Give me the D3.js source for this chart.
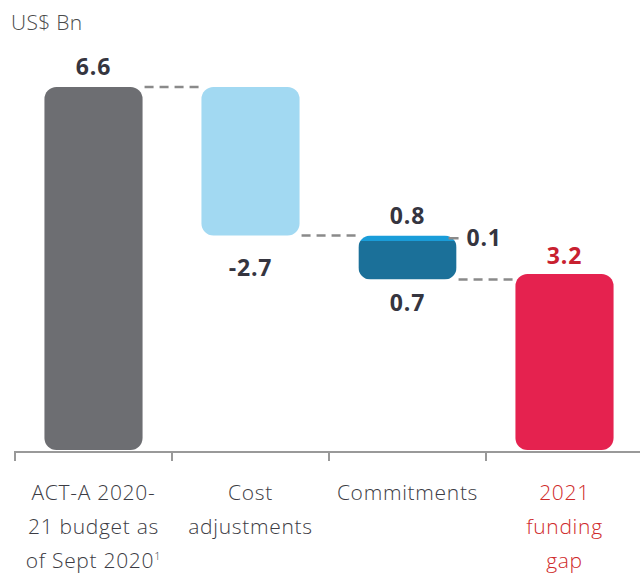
<!DOCTYPE html>
<html><head><meta charset="utf-8">
<script src="https://cdn.jsdelivr.net/npm/d3@7"></script>
<style>body{margin:0;background:#fff;}svg{display:block;font-family:"Open Sans",Lato,sans-serif;}</style>
</head><body>
<svg id="c" width="640" height="574"></svg>
<script>
const categories = ["budget", "cost", "commit", "gap"];
const tickLabels = [["ACT-A 2020-", "21 budget as", "of Sept 2020"], ["Cost", "adjustments"], ["Commitments"], ["2021", "funding", "gap"]];
const startValue = 6.6;
const costChange = -2.7;
const commitParts = [0.1, 0.7];
const gapValue = 3.2;
const unitLabel = "US$ Bn";

const svg = d3.select("#c");
const x = d3.scaleBand().domain(categories).range([15, 643]).paddingInner(0.375).paddingOuter(0.1875);
const xt = d3.scaleBand().domain(categories).range([15, 643]).padding(0);
const y = d3.scaleLinear().domain([0, 6.6]).range([450, 87]);
const bw = x.bandwidth();

const afterCost = startValue + costChange;
const commitTotal = d3.sum(commitParts);
const afterCommit = afterCost - commitTotal;

function rbar(cat, v0, v1, fill) {
  return svg.append("rect").attr("x", x(cat)).attr("width", bw)
    .attr("y", y(Math.max(v0, v1))).attr("height", Math.abs(y(v0) - y(v1)))
    .attr("rx", 12).attr("ry", 12).attr("fill", fill);
}
const dash = svg.append("g").attr("stroke", "#8a8a8a").attr("stroke-width", 2.5).attr("stroke-dasharray", "9,6").attr("fill", "none");
dash.append("line").attr("x1", x("budget") + bw + 2).attr("x2", x("cost")).attr("y1", y(startValue)).attr("y2", y(startValue));
dash.append("line").attr("x1", x("cost") + bw + 2).attr("x2", x("commit")).attr("y1", y(afterCost)).attr("y2", y(afterCost));
dash.append("line").attr("x1", x("commit") + bw + 2).attr("x2", x("gap")).attr("y1", y(afterCommit)).attr("y2", y(afterCommit));

rbar("budget", 0, startValue, "#6d6e72");
rbar("cost", startValue, afterCost, "#a2d9f2");
const defs = svg.append("defs");
defs.append("clipPath").attr("id", "cc").append("rect")
  .attr("x", x("commit")).attr("width", bw)
  .attr("y", y(afterCost)).attr("height", y(afterCommit) - y(afterCost)).attr("rx", 12).attr("ry", 12);
const cg = svg.append("g").attr("clip-path", "url(#cc)");
cg.append("rect").attr("x", x("commit")).attr("width", bw).attr("y", y(afterCost)).attr("height", y(afterCost - commitParts[0]) - y(afterCost)).attr("fill", "#1a9dd9");
cg.append("rect").attr("x", x("commit")).attr("width", bw).attr("y", y(afterCost - commitParts[0])).attr("height", y(afterCommit) - y(afterCost - commitParts[0])).attr("fill", "#1b7099");
rbar("gap", 0, gapValue, "#e5224f");

const midLight = y(afterCost - commitParts[0] / 2);
svg.append("line").attr("x1", x("commit") + bw - 8).attr("x2", x("commit") + bw + 2).attr("y1", midLight).attr("y2", midLight).attr("stroke", "#8a8a8a").attr("stroke-width", 2.5);

const lab = svg.append("g").attr("font-weight", 700).attr("font-size", 23).attr("letter-spacing", 0.8).attr("fill", "#35353f").attr("text-anchor", "middle");
const cx = c => x(c) + bw / 2;
lab.append("text").attr("x", cx("budget")).attr("y", y(startValue) - 12).text(startValue.toFixed(1));
lab.append("text").attr("x", cx("cost")).attr("y", y(afterCost) + 40).text(costChange.toFixed(1));
lab.append("text").attr("x", cx("commit")).attr("y", y(afterCost) - 12).text(commitTotal.toFixed(1));
lab.append("text").attr("x", cx("commit")).attr("y", y(afterCommit) + 31).text(commitParts[1].toFixed(1));
lab.append("text").attr("x", x("commit") + bw + 10).attr("y", midLight + 8).attr("text-anchor", "start").text(commitParts[0].toFixed(1));
lab.append("text").attr("x", cx("gap")).attr("y", y(gapValue) - 10).attr("fill", "#c8202f").text(gapValue.toFixed(1));

svg.append("text").attr("x", 11).attr("y", 30).attr("font-size", 21).attr("font-weight", 300).attr("letter-spacing", 0.3).attr("fill", "#4a4a4a").text(unitLabel);

const ax = svg.append("g").attr("stroke", "#999").attr("stroke-width", 2);
ax.append("line").attr("x1", 14).attr("x2", 640).attr("y1", 452).attr("y2", 452);
categories.forEach(c => ax.append("line").attr("x1", xt(c)).attr("x2", xt(c)).attr("y1", 451).attr("y2", 461));

const tl = svg.append("g").attr("font-size", 21).attr("font-weight", 300).attr("letter-spacing", 0.7).attr("text-anchor", "middle");
categories.forEach((c, i) => {
  const t = tl.append("text").attr("x", cx(c)).attr("fill", c === "gap" ? "#cf2a2a" : "#3c3c44");
  tickLabels[i].forEach((ln, j) => {
    const ts = t.append("tspan").attr("x", cx(c)).attr("y", 500 + j * 34).text(ln);
    if (c === "budget" && j === 2) ts.append("tspan").attr("font-size", 11).attr("dy", -8).text("1");
  });
});
</script>
</body></html>
